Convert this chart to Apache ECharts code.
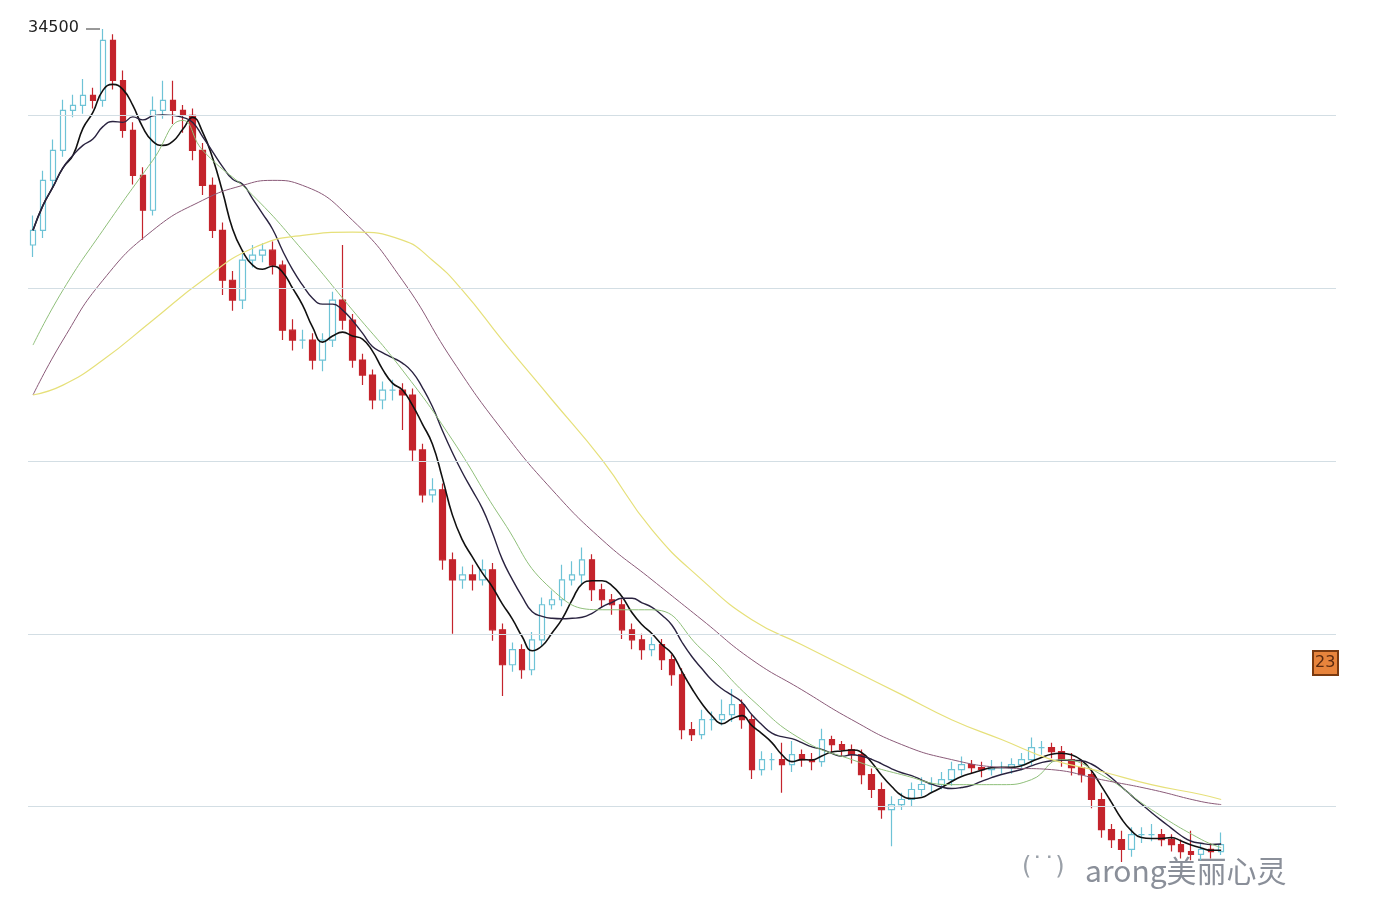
<!DOCTYPE html>
<html><head><meta charset="utf-8">
<script src="https://cdn.jsdelivr.net/npm/echarts@6/dist/echarts.min.js"></script>
<style>html,body{margin:0;padding:0;background:#fff}#c{width:1394px;height:900px}</style>
</head><body><div id="c"></div>
<script>
const opens=[33250,33335,33624,33798,34029,34058,34116,34087,34434,34202,33913,33653,33451,34029,34087,34029,34000,33798,33595,33335,33046,32931,33162,33191,33220,33133,32757,32700,32700,32584,32700,32931,32815,32584,32497,32353,32410,32410,32382,32064,31804,31833,31428,31312,31341,31312,31370,31023,30821,30908,30792,30965,31168,31197,31312,31341,31428,31255,31197,31168,31023,30965,30908,30937,30850,30763,30445,30416,30503,30503,30532,30590,30503,30214,30272,30272,30243,30301,30272,30260,30388,30359,30330,30301,30185,30099,29983,30012,30041,30099,30128,30128,30156,30214,30243,30226,30214,30226,30226,30243,30272,30341,30341,30318,30272,30226,30185,30041,29867,29809,29752,29838,29838,29838,29809,29780,29740,29723,29752,29740];
const closes=[33335,33624,33798,34029,34058,34116,34087,34434,34202,33913,33653,33451,34029,34087,34029,34000,33798,33595,33335,33046,32931,33162,33191,33220,33133,32757,32700,32700,32584,32700,32931,32815,32584,32497,32353,32410,32410,32382,32064,31804,31833,31428,31312,31341,31312,31370,31023,30821,30908,30792,30965,31168,31197,31312,31341,31428,31255,31197,31168,31023,30965,30908,30937,30850,30763,30445,30416,30503,30503,30532,30590,30503,30214,30272,30272,30243,30301,30272,30260,30388,30359,30330,30301,30185,30099,29983,30012,30041,30099,30128,30128,30156,30214,30243,30226,30214,30226,30226,30243,30272,30341,30341,30318,30272,30226,30185,30041,29867,29809,29752,29838,29838,29838,29809,29780,29740,29723,29752,29740,29780];
const lows=[33180,33290,33580,33760,33990,34010,34040,34050,34150,33870,33600,33280,33420,33980,33950,33900,33740,33540,33290,32960,32870,32880,33120,33150,33080,32700,32640,32650,32530,32520,32660,32760,32540,32440,32300,32300,32350,32180,32000,31760,31760,31370,31000,31260,31250,31280,30960,30640,30780,30740,30760,30930,31140,31160,31280,31290,31190,31150,31110,30970,30910,30850,30870,30790,30700,30390,30380,30390,30440,30470,30490,30450,30160,30180,30210,30080,30200,30230,30210,30230,30310,30290,30250,30130,30050,29930,29770,29980,30000,30060,30080,30100,30120,30180,30190,30170,30180,30190,30190,30210,30240,30300,30280,30230,30180,30140,29990,29820,29760,29680,29710,29790,29800,29770,29740,29700,29690,29690,29700,29720];
const highs=[33420,33680,33860,34090,34120,34210,34160,34500,34470,34260,33960,33700,34110,34200,34200,34060,34040,33840,33640,33380,33100,33200,33250,33260,33270,33160,32820,32760,32740,32740,32980,33250,32850,32620,32530,32460,32470,32450,32420,32100,31900,31870,31470,31390,31400,31430,31410,31060,30950,30940,31010,31210,31250,31400,31420,31500,31460,31290,31230,31200,31060,31000,30980,30970,30880,30800,30490,30560,30550,30620,30680,30620,30530,30320,30310,30370,30380,30330,30310,30450,30410,30380,30360,30330,30220,30140,30060,30080,30140,30170,30170,30200,30260,30290,30270,30260,30270,30260,30280,30310,30400,30380,30370,30350,30310,30270,30220,30080,29900,29860,29880,29880,29900,29870,29840,29810,29860,29790,29790,29850];
const ma20=[[0,32671],[3,32989],[7,33335],[12,33740],[15,33971],[17,33798],[22,33538],[27,33220],[32,32873],[37,32526],[42,32122],[47,31659],[52,31255],[57,31139],[62,31139],[67,30908],[72,30619],[77,30388],[82,30272],[87,30185],[92,30127],[97,30127],[100,30156],[103,30272],[107,30185],[112,29983],[117,29810],[119,29763]];
const ma30=[[0,32382],[3,32700],[7,33046],[12,33335],[17,33509],[21,33595],[24,33624],[27,33595],[32,33393],[37,33046],[42,32584],[47,32179],[52,31833],[57,31544],[62,31312],[67,31081],[72,30850],[77,30676],[82,30503],[87,30359],[92,30272],[97,30226],[102,30214],[107,30156],[112,30099],[117,30029],[119,30012]];
const ma60=[[0,32382],[3,32439],[7,32584],[12,32815],[17,33046],[22,33231],[27,33306],[32,33324],[37,33278],[40,33162],[43,32989],[47,32700],[52,32353],[57,32006],[62,31601],[67,31312],[72,31081],[77,30937],[82,30792],[87,30648],[92,30503],[97,30388],[102,30272],[107,30203],[112,30127],[117,30070],[119,30041]];
const yTicks=[30000,31000,32000,33000,34000];

const N=131;
const cats=[];for(let i=0;i<N;i++)cats.push(String(i+1));
const kdata=opens.map((o,i)=>[o,closes[i],lows[i],highs[i]]);
function ma(n){return closes.map((c,i)=>{const s=closes.slice(Math.max(0,i-n+1),i+1);return +(s.reduce((a,b)=>a+b,0)/s.length).toFixed(1);});}
const chart=echarts.init(document.getElementById('c'));
const ln=(name,data,color,w)=>({name,type:'line',data,smooth:true,connectNulls:true,showSymbol:false,symbol:'none',lineStyle:{color,width:w},z:3});
chart.setOption({
 animation:false,
 grid:{left:28,right:58,top:29,bottom:7},
 xAxis:{type:'category',data:cats,boundaryGap:true,axisLine:{show:false},axisTick:{show:false},axisLabel:{show:false},splitLine:{show:false}},
 yAxis:{type:'value',min:29500,max:34500,axisLine:{show:false},axisTick:{show:false},axisLabel:{show:false},splitLine:{show:false}},
 series:[
  {type:'candlestick',data:kdata,barWidth:6,itemStyle:{color:'#ffffff',color0:'#c4242c',borderColor:'#6ec3d6',borderColor0:'#c4242c',borderWidth:1.2},z:2,
   markLine:{silent:true,symbol:'none',label:{show:false},lineStyle:{color:'#d3dee4',width:1,type:'solid'},data:yTicks.map(v=>({yAxis:v}))}},
  ln('MA5',ma(5),'#111111',1.6),
  ln('MA10',ma(10),'#2a2340',1.4),
  ln('MA20',ma20,'#8fbf7a',1),
  ln('MA30',ma30,'#8a5a78',1),
  ln('MA60',ma60,'#e6e07a',1.2)
 ],
 graphic:[
  {type:'text',left:28,top:20,style:{text:'34500',font:'16px "DejaVu Sans"',fill:'#222'}},
  {type:'line',shape:{x1:86,y1:29,x2:100,y2:29},style:{stroke:'#333',lineWidth:1}},
  {type:'group',left:1312,top:650,children:[
    {type:'rect',shape:{x:0,y:0,width:25,height:24},style:{fill:'#e8843c',stroke:'#7a3a10',lineWidth:2}},
    {type:'text',x:2,y:4,style:{text:'23',font:'16px "DejaVu Sans"',fill:'#5a2a10'}}]},
  {type:'text',left:1085,top:856,style:{text:'arong美丽心灵',font:'30px "Noto Sans CJK SC"',fill:'#8a8f99'}},
  {type:'text',left:1022,top:856,style:{text:'(˙˙)',font:'24px "DejaVu Sans"',fill:'#9aa0a8'}}
 ]
});
</script></body></html>
